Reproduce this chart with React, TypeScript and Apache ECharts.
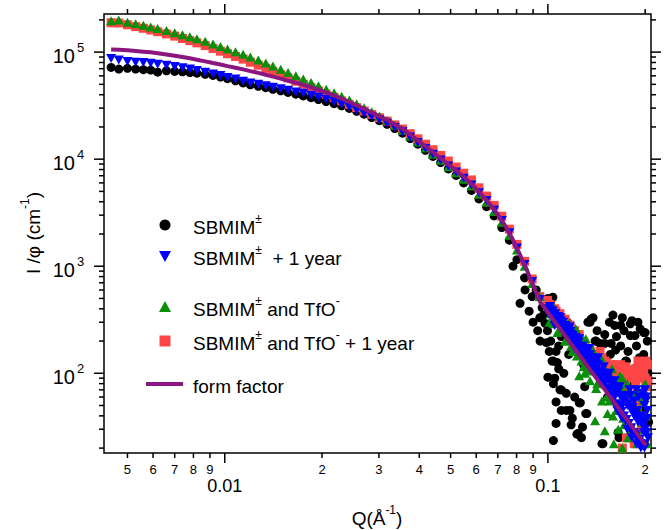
import React, { useEffect, useRef } from "react";
import * as echarts from "echarts";

// ---------- data ----------
const Q = [
  0.00445, 0.0047, 0.005, 0.0053, 0.0056, 0.0059, 0.0062, 0.0066, 0.007, 0.0074,
  0.0078, 0.0082, 0.0087, 0.0092, 0.0097, 0.0102, 0.0108, 0.0114, 0.012, 0.0127,
  0.0134, 0.0141, 0.0149, 0.0157, 0.0166, 0.0175, 0.0185, 0.0195, 0.0206, 0.0218,
  0.023, 0.0243, 0.0256, 0.027, 0.0285, 0.0301, 0.0318, 0.0336, 0.0355, 0.0375,
  0.0396, 0.0418, 0.0441, 0.0466, 0.0492, 0.052, 0.0549, 0.058, 0.0612, 0.0646,
  0.0682, 0.072, 0.076, 0.0802, 0.0847, 0.0894, 0.0944,
  0.0997, 0.102, 0.104, 0.106, 0.108, 0.11, 0.112, 0.114, 0.116, 0.118,
  0.12, 0.123, 0.126, 0.129, 0.132, 0.135, 0.138, 0.141, 0.144, 0.147,
  0.15, 0.153, 0.156, 0.159, 0.162, 0.165, 0.168, 0.171, 0.174, 0.177,
  0.18, 0.183, 0.186, 0.189, 0.192, 0.195, 0.198, 0.201,
];

const formFactor = [
  105800, 105000, 104000, 102500, 101000, 99500, 97500, 95000, 92500, 90000,
  87500, 85000, 82000, 79000, 76500, 74000, 71500, 69000, 66500, 64000,
  61500, 59000, 56500, 54000, 51800, 49500, 47000, 44500, 42000, 39500,
  36800, 34200, 31800, 29500, 27300, 25200, 23200, 21100, 19100, 17000,
  15000, 13200, 11600, 10200, 8950, 7850, 6850, 5900, 4950, 4150,
  3400, 2700, 2050, 1480, 1030, 700, 470,
  376, 342, 316, 292, 271, 251, 233, 217, 202, 188,
  176, 159, 144, 131, 119, 108, 99, 90.7, 83.2, 76.5,
  70.4, 64.9, 60, 55.4, 51.4, 47.6, 44.2, 41.1, 38.3, 35.7,
  33.3, 31.2, 29.1, 27.3, 25.6, 24, 22.6, 21.2,
];

const sbmim = [
  72000, 69500, 70500, 69500, 68500, 68000, 65000, 67000, 66000, 65500,
  64500, 63500, 62000, 60500, 58500, 56500, 54000, 51500, 49500, 48000,
  46500, 45000, 43500, 42000, 40500, 39000, 37500, 36000, 34500, 33000,
  31500, 29800, 28000, 26300, 24500, 22900, 21200, 19300, 17500, 15600,
  13800, 12100, 10600, 9300, 8100, 7050, 6000, 5100, 4250, 3600,
  2950, 2300, 1750, 1150, 780, 520, 330,
  250, 410, 130, 54, 180, 70, 240, 45, 150, 33,
  175, 27, 53, 120, 42, 300, 330, 200, 95, 22,
  190, 60, 150, 350, 165, 28, 280, 105, 130, 90,
  290, 60, 225, 40, 140, 30, 240, 75,
];
const sbmimExtra = [
  [0.078, 1000], [0.082, 450], [0.085, 600], [0.0875, 380], [0.09, 300], [0.0946, 200],
  [0.096, 410], [0.098, 293], [0.099, 193], [0.1, 92], [0.101, 160], [0.103, 130],
  [0.1036, 513], [0.105, 90], [0.107, 126], [0.109, 70], [0.106, 34], [0.104, 23.5],
  [0.117, 45], [0.125, 53], [0.124, 27.5], [0.131, 42], [0.128, 31.5], [0.133, 300],
  [0.148, 22], [0.161, 280], [0.157, 190], [0.175, 130], [0.18, 225], [0.19, 300],
  [0.2, 240], [0.14, 200], [0.145, 190], [0.122, 175], [0.115, 300], [0.11, 220],
  [0.17, 330], [0.185, 80], [0.196, 110], [0.166, 25], [0.178, 25], [0.204, 100], [0.2, 60],
  [0.092, 600], [0.093, 250], [0.097, 350], [0.1, 500], [0.102, 200], [0.104, 80],
  [0.106, 160], [0.108, 110], [0.11, 45], [0.112, 100], [0.114, 65], [0.119, 38],
  [0.121, 60], [0.127, 25], [0.13, 75], [0.136, 320], [0.142, 250], [0.15, 230],
  [0.155, 300], [0.163, 220], [0.168, 180], [0.172, 250], [0.177, 160], [0.182, 310],
  [0.188, 180], [0.193, 260], [0.198, 150], [0.203, 200], [0.16, 120], [0.185, 110],
  [0.195, 45], [0.205, 35],
];

const sbmimYear = [
  87000, 84500, 81500, 80500, 80000, 78500, 77000, 75500, 73500, 71500,
  69500, 67500, 65000, 62500, 60500, 58000, 56000, 53500, 51500, 50000,
  48500, 47000, 45500, 44000, 42500, 41200, 39600, 38000, 36300, 34500,
  32600, 30700, 28800, 26900, 25000, 23300, 21600, 19800, 18000, 16100,
  14300, 12600, 11100, 9800, 8650, 7600, 6650, 5750, 4850, 4100,
  3350, 2680, 2050, 1480, 1040, 720, 490,
  400, 390, 350, 335, 300, 295, 270, 260, 230, 230,
  205, 200, 170, 165, 140, 150, 115, 125, 95, 100,
  80, 90, 62, 75, 50, 68, 40, 58, 36, 52,
  30, 48, 27, 45, 24, 40, 28, 55,
];
const sbmimYearExtra = [
  [0.105, 280], [0.109, 330], [0.113, 230], [0.117, 270], [0.121, 170], [0.125, 210],
  [0.13, 130], [0.134, 170], [0.137, 130], [0.14, 100], [0.143, 140], [0.146, 85],
  [0.149, 115], [0.152, 70], [0.155, 100], [0.158, 60], [0.161, 85], [0.164, 45],
  [0.167, 75], [0.17, 38], [0.173, 62], [0.176, 30], [0.179, 70], [0.182, 25],
  [0.185, 55], [0.188, 22], [0.191, 60], [0.194, 20], [0.197, 35], [0.2, 70],
  [0.203, 45], [0.204, 25], [0.199, 50], [0.19, 35], [0.185, 40], [0.17, 50],
  [0.16, 70], [0.15, 95], [0.2, 22],
  [0.1005, 360], [0.1015, 420], [0.103, 330], [0.1035, 380], [0.105, 310], [0.1055, 360],
  [0.107, 300], [0.1075, 340], [0.109, 270], [0.1095, 310], [0.111, 260], [0.1115, 300],
  [0.113, 250], [0.1135, 280], [0.115, 225], [0.1155, 255], [0.117, 210], [0.1175, 245],
  [0.119, 200], [0.1195, 225], [0.121, 185], [0.122, 215], [0.124, 170], [0.1245, 195],
  [0.127, 150], [0.128, 180], [0.13, 140], [0.131, 160], [0.133, 125], [0.134, 150],
  [0.136, 115], [0.137, 140], [0.139, 105], [0.1395, 125], [0.142, 95], [0.143, 120],
  [0.145, 90], [0.146, 105], [0.148, 80], [0.149, 100], [0.151, 72], [0.152, 92],
  [0.154, 68], [0.155, 85], [0.157, 62], [0.158, 80], [0.16, 58], [0.161, 75],
  [0.163, 52], [0.164, 66], [0.166, 48], [0.167, 62], [0.169, 44], [0.17, 58],
  [0.172, 40], [0.173, 55], [0.175, 37], [0.176, 50], [0.178, 34], [0.179, 48],
  [0.181, 31], [0.182, 45], [0.184, 28], [0.185, 42], [0.187, 26], [0.188, 40],
  [0.19, 24], [0.191, 38], [0.193, 22], [0.194, 35], [0.196, 21], [0.197, 32],
  [0.199, 20], [0.2, 30], [0.202, 28], [0.203, 38], [0.201, 60], [0.196, 65],
  [0.188, 70], [0.18, 62],
];

const sbmimTfo = [
  196000, 200000, 190000, 184000, 178000, 172000, 166000, 159000, 152000, 145000,
  139000, 133000, 126000, 119000, 113000, 107000, 101000, 95500, 90000, 84500,
  79000, 74000, 69000, 64500, 60000, 56000, 52000, 48500, 45000, 41800,
  38700, 35700, 32900, 30300, 27700, 25300, 23000, 20700, 18600, 16500,
  14500, 12700, 11100, 9750, 8500, 7450, 6500, 5600, 4700, 3950,
  3250, 2580, 1950, 1420, 1000, 690, 520,
  420, 360, 290, 350, 250, 300, 310, 200, 260, 180,
  240, 145, 200, 115, 175, 85, 150, 72, 130, 55,
  110, 42, 95, 40, 85, 30, 75, 38, 65, 25,
  55, 28, 62, 22, 45, 35, 70, 40,
];
const sbmimTfoExtra = [
  [0.109, 330], [0.128, 200], [0.125, 95], [0.16, 85], [0.17, 90], [0.14, 36],
  [0.15, 29], [0.16, 22], [0.17, 20], [0.185, 48], [0.195, 60], [0.2, 30],
  [0.13, 100], [0.155, 55], [0.19, 25],
  [0.101, 300], [0.104, 420], [0.107, 240], [0.111, 330], [0.113, 200], [0.116, 290],
  [0.119, 160], [0.122, 260], [0.127, 130], [0.131, 210], [0.134, 105], [0.137, 170],
  [0.142, 80], [0.146, 140], [0.152, 60], [0.158, 110], [0.163, 45], [0.167, 95],
  [0.172, 33], [0.176, 80], [0.181, 30], [0.187, 70], [0.193, 26], [0.197, 55],
  [0.203, 22], [0.2, 80],
];

const sbmimTfoYear = [
  188000, 187000, 180000, 173000, 167000, 161000, 155000, 148000, 141000, 134000,
  128000, 122000, 115000, 108000, 102000, 96500, 91000, 86000, 80500, 75500,
  70500, 66000, 61500, 57500, 53500, 50000, 46500, 43500, 40500, 37800,
  35000, 32500, 30300, 28200, 26200, 24400, 22700, 20900, 19100, 17300,
  15500, 13800, 12250, 10850, 9600, 8450, 7400, 6400, 5400, 4520,
  3700, 2930, 2220, 1600, 1110, 760, 520,
  480, 430, 390, 380, 340, 330, 310, 290, 250, 260,
  230, 220, 190, 195, 160, 165, 140, 145, 120, 125,
  130, 110, 120, 100, 115, 95, 120, 80, 105, 70,
  95, 60, 110, 50, 90, 40, 100, 75,
];
const sbmimTfoYearExtra = [
  [0.165, 120], [0.17, 100], [0.19, 130], [0.2, 90], [0.203, 120], [0.175, 25],
  [0.185, 22], [0.17, 20], [0.195, 30], [0.15, 80], [0.14, 110], [0.125, 230], [0.145, 160],
  [0.101, 440], [0.105, 400], [0.109, 360], [0.113, 320], [0.117, 280], [0.121, 250],
  [0.125, 210], [0.13, 180], [0.134, 170], [0.138, 150], [0.142, 135], [0.147, 140],
  [0.152, 125], [0.157, 115], [0.162, 105], [0.166, 110], [0.17, 95], [0.174, 115],
  [0.178, 90], [0.182, 105], [0.187, 85], [0.192, 100], [0.197, 110], [0.201, 130],
  [0.204, 85], [0.158, 75], [0.148, 95],
];

// axis ticks
const xMinorTicks = [0.005, 0.006, 0.007, 0.008, 0.009, 0.02, 0.03, 0.04, 0.05, 0.06, 0.07, 0.08, 0.09, 0.2];
const xMinorLabels = ["5", "6", "7", "8", "9", "2", "3", "4", "5", "6", "7", "8", "9", "2"];
const xMajorTicks = [0.01, 0.1];
const xMajorLabels = ["0.01", "0.1"];
const yMajorTicks = [100, 1000, 10000, 100000];
const yMajorExponents = ["2", "3", "4", "5"];
const yMinorTicks = [
  20, 30, 40, 50, 60, 70, 80, 90,
  200, 300, 400, 500, 600, 700, 800, 900,
  2000, 3000, 4000, 5000, 6000, 7000, 8000, 9000,
  20000, 30000, 40000, 50000, 60000, 70000, 80000, 90000,
  200000,
];

const X_MIN = 0.00423;
const X_MAX = 0.2085;
const Y_MIN = 18;
const Y_MAX = 227000;

const FONT = "'Liberation Sans', Arial, Helvetica, sans-serif";
const BLACK = "#000000";
const BLUE = "#0000ff";
const GREEN = "#0a8f0a";
const RED = "#ff4646";
const PURPLE = "#8c167f";

const xTickItems = [
  ...xMinorTicks.map((v, i) => ({ v, major: false, label: xMinorLabels[i] })),
  ...xMajorTicks.map((v, i) => ({ v, major: true, label: xMajorLabels[i] })),
];
const yTickItems = [
  ...yMinorTicks.map((v) => ({ v, major: false, label: "" })),
  ...yMajorTicks.map((v, i) => ({ v, major: true, label: yMajorExponents[i] })),
];

function pairs(vals: number[]) {
  return Q.map((q, i) => [q, vals[i]]);
}

const supRich = {
  n: { fontSize: 19, fontFamily: FONT, lineHeight: 24, fill: "#000", color: "#000", verticalAlign: "bottom" },
  s: { fontSize: 12, fontFamily: FONT, lineHeight: 12, fill: "#000", color: "#000", verticalAlign: "top" },
};

const legendRows = [
  { y: 225, text: "{n|SBMIM}{s|±}" },
  { y: 256, text: "{n|SBMIM}{s|±}{n|  + 1 year}" },
  { y: 307, text: "{n|SBMIM}{s|±}{n| and TfO}{s|-}" },
  { y: 341, text: "{n|SBMIM}{s|±}{n| and TfO}{s|-}{n| + 1 year}" },
  { y: 384, text: "{n|form factor}" },
];

export default function App() {
  const ref = useRef<HTMLDivElement>(null);
  useEffect(() => {
    const chart = echarts.init(ref.current as HTMLDivElement, null, { renderer: "svg" });
    const option: any = {
      animation: false,
      backgroundColor: "#ffffff",
      grid: {
        left: 104,
        right: 19,
        top: 14,
        bottom: 77,
        show: true,
        borderColor: "#000",
        borderWidth: 1.5,
        backgroundColor: "transparent",
      },
      xAxis: {
        type: "log",
        logBase: 10,
        min: X_MIN,
        max: X_MAX,
        axisLine: { show: false },
        axisTick: { show: false },
        axisLabel: { show: false },
        splitLine: { show: false },
      },
      yAxis: {
        type: "log",
        logBase: 10,
        min: Y_MIN,
        max: Y_MAX,
        axisLine: { show: false },
        axisTick: { show: false },
        axisLabel: { show: false },
        splitLine: { show: false },
      },
      series: [
        {
          type: "scatter",
          name: "SBMIM±",
          data: pairs(sbmim).concat(sbmimExtra),
          symbol: "circle",
          symbolSize: 9,
          itemStyle: { color: BLACK, opacity: 1 },
          z: 2,
        },
        {
          type: "scatter",
          name: "SBMIM± and TfO- + 1 year",
          data: pairs(sbmimTfoYear).concat(sbmimTfoYearExtra),
          symbol: "rect",
          symbolSize: 9,
          itemStyle: { color: RED, opacity: 1 },
          z: 2,
        },
        {
          type: "scatter",
          name: "SBMIM± and TfO-",
          data: pairs(sbmimTfo).concat(sbmimTfoExtra),
          symbol: "triangle",
          symbolSize: [10, 9],
          itemStyle: { color: GREEN, opacity: 1 },
          z: 2,
        },
        {
          type: "scatter",
          name: "SBMIM± + 1 year",
          data: pairs(sbmimYear).concat(sbmimYearExtra),
          symbol: "triangle",
          symbolRotate: 180,
          symbolSize: [10, 9],
          itemStyle: { color: BLUE, opacity: 1 },
          z: 2,
        },
        {
          type: "line",
          name: "form factor",
          data: pairs(formFactor),
          symbol: "none",
          showSymbol: false,
          lineStyle: { color: PURPLE, width: 4 },
          z: 3,
        },
        {
          type: "custom",
          coordinateSystem: "cartesian2d",
          silent: true,
          clip: false,
          z: 10,
          data: xTickItems.map((t) => [t.v, Y_MIN]),
          renderItem: (params: any, api: any) => {
            const t = xTickItems[params.dataIndex];
            const cs = params.coordSys;
            const px = api.coord([t.v, Y_MIN])[0];
            const len = t.major ? 10 : 5;
            const bottom = cs.y + cs.height;
            const top = cs.y;
            return {
              type: "group",
              children: [
                { type: "line", shape: { x1: px, y1: bottom, x2: px, y2: bottom + len }, style: { stroke: "#000", lineWidth: 1.5 } },
                { type: "line", shape: { x1: px, y1: top, x2: px, y2: top - len }, style: { stroke: "#000", lineWidth: 1.5 } },
                {
                  type: "text",
                  x: px,
                  y: t.major ? bottom + 33 : bottom + 16,
                  style: {
                    text: t.label,
                    fontSize: t.major ? 18 : 13,
                    fontFamily: FONT,
                    fill: "#000",
                    align: "center",
                    verticalAlign: "middle",
                  },
                },
              ],
            };
          },
        },
        {
          type: "custom",
          coordinateSystem: "cartesian2d",
          silent: true,
          clip: false,
          z: 10,
          data: yTickItems.map((t) => [X_MIN, t.v]),
          renderItem: (params: any, api: any) => {
            const t = yTickItems[params.dataIndex];
            const cs = params.coordSys;
            const py = api.coord([X_MIN, t.v])[1];
            const len = t.major ? 10 : 5;
            const left = cs.x;
            const right = cs.x + cs.width;
            const children: any[] = [
              { type: "line", shape: { x1: left, y1: py, x2: left - len, y2: py }, style: { stroke: "#000", lineWidth: 1.5 } },
              { type: "line", shape: { x1: right, y1: py, x2: right + len, y2: py }, style: { stroke: "#000", lineWidth: 1.5 } },
            ];
            if (t.major) {
              children.push({
                type: "text",
                x: left - 29,
                y: py + 3.5,
                style: { text: "10", fontSize: 20, fontFamily: FONT, fill: "#000", align: "right", verticalAlign: "middle" },
              });
              children.push({
                type: "text",
                x: left - 27,
                y: py - 5,
                style: { text: t.label, fontSize: 13, fontFamily: FONT, fill: "#000", align: "left", verticalAlign: "middle" },
              });
            }
            return { type: "group", children };
          },
        },
      ],
      graphic: [
        { type: "circle", shape: { cx: 165, cy: 225, r: 5.5 }, style: { fill: BLACK } },
        { type: "polygon", shape: { points: [[159, 251], [171, 251], [165, 262]] }, style: { fill: BLUE } },
        { type: "polygon", shape: { points: [[159, 312], [171, 312], [165, 301]] }, style: { fill: GREEN } },
        { type: "rect", shape: { x: 159.5, y: 335.5, width: 11, height: 11 }, style: { fill: RED } },
        { type: "line", shape: { x1: 146, y1: 384, x2: 183, y2: 384 }, style: { stroke: PURPLE, lineWidth: 4 } },
        ...legendRows.map((r) => ({
          type: "text",
          x: 193,
          y: r.y,
          style: { text: r.text, rich: supRich, align: "left", verticalAlign: "middle", fill: "#000" },
        })),
        {
          type: "text",
          x: 31,
          y: 233,
          rotation: Math.PI / 2,
          style: {
            text: "{n|I /φ (cm}{s|-1}{n|)}",
            rich: supRich,
            align: "center",
            verticalAlign: "middle",
            fill: "#000",
          },
        },
        {
          type: "text",
          x: 377,
          y: 516,
          style: {
            text: "{n|Q(Å}{s|-1}{n|)}",
            rich: supRich,
            align: "center",
            verticalAlign: "middle",
            fill: "#000",
          },
        },
      ],
    };
    chart.setOption(option);
    return () => chart.dispose();
  }, []);
  return (
    <div
      ref={ref}
      style={{ position: "absolute", left: 0, top: 0, width: 670, height: 530, background: "#fff" }}
    />
  );
}
